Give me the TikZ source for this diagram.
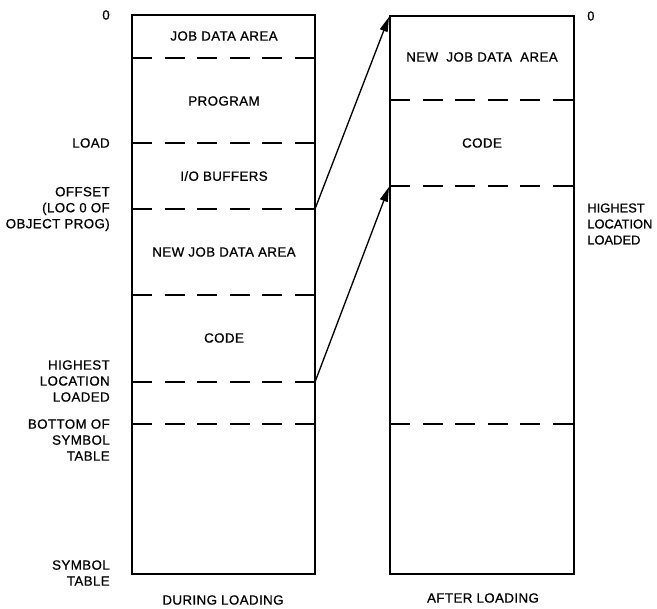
\documentclass[tikz,border=0pt]{standalone}
\usepackage{fontspec}
\setmainfont{Liberation Sans}[FakeBold=0.8,LetterSpace=3]
\usetikzlibrary{arrows.meta}
\begin{document}
\begin{tikzpicture}[x=0.75pt,y=-0.75pt,
  font=\fontsize{10}{12}\selectfont,
  mem/.style={draw, line width=1.4pt},
  sep/.style={line width=1pt, dash pattern=on 15pt off 9.45pt},
  llbl/.style={align=right, anchor=east, inner sep=0pt},
  rlbl/.style={align=left, anchor=west, inner sep=0pt,
    font=\fontsize{9.7}{12}\selectfont\addfontfeature{LetterSpace=0}},
  area/.style={inner sep=0pt},
  link/.style={line width=1pt, -{Triangle[length=11pt,width=6pt]}}]
\useasboundingbox (0,0) rectangle (657,609);

% corners of the two memory maps
\coordinate (LTL) at (132,15);  \coordinate (LBR) at (315,574);
\coordinate (RTL) at (390,16);  \coordinate (RBR) at (574,574);
\draw[mem] (LTL) rectangle (LBR);
\draw[mem] (RTL) rectangle (RBR);

% left dashed separators
\coordinate (L1a) at (132,58);  \coordinate (L1b) at (315,58);
\coordinate (L2a) at (132,143); \coordinate (L2b) at (315,143);
\coordinate (L3a) at (132,209); \coordinate (L3b) at (315,209);
\coordinate (L4a) at (132,295); \coordinate (L4b) at (315,295);
\coordinate (L5a) at (132,382); \coordinate (L5b) at (315,382);
\coordinate (L6a) at (132,424); \coordinate (L6b) at (315,424);
\foreach \i in {1,...,6} \draw[sep] (L\i a) -- (L\i b);

% right dashed separators
\coordinate (R1a) at (390,100); \coordinate (R1b) at (574,100);
\coordinate (R2a) at (390,186); \coordinate (R2b) at (574,186);
\coordinate (R3a) at (390,424); \coordinate (R3b) at (574,424);
\foreach \i in {1,...,3} \draw[sep] (R\i a) -- (R\i b);

% contents of left map
\node[area] (jda)  at (224,36)  {JOB DATA AREA};
\node[area] (prog) at (224,101) {PROGRAM};
\node[area] (iob)  at (224,176) {I/O BUFFERS};
\node[area] (njda) at (224,252) {NEW JOB DATA AREA};
\node[area] (code) at (224,338) {CODE};

% contents of right map
\node[area] (rnjda) at (482,57)  {NEW\ \ JOB DATA\ \ AREA};
\node[area] (rcode) at (482,143) {CODE};

% left labels
\node[llbl] (z0)   at (110,15)  {0};
\node[llbl] (load) at (110,143) {LOAD};
\node[llbl] (off)  at (110,209) {OFFSET\\(LOC 0 OF\\OBJECT PROG)};
\node[llbl] (hll)  at (110,381) {HIGHEST\\LOCATION\\LOADED};
\node[llbl] (bst)  at (110,440) {BOTTOM OF\\SYMBOL\\TABLE};
\node[llbl] (st)   at (110,573) {SYMBOL\\TABLE};
\node[area] (dur)  at (223,600) {DURING LOADING};

% right labels
\node[rlbl] (rz0)  at (587,16)  {0};
\node[rlbl] (rhll) at (587,224) {HIGHEST\\LOCATION\\LOADED};
\node[area] (aft)  at (483,598) {AFTER LOADING};

% relocation arrows
\draw[link] (L3b) -- (389,17);
\draw[link] (L5b) -- (389,187);
\end{tikzpicture}
\end{document}
